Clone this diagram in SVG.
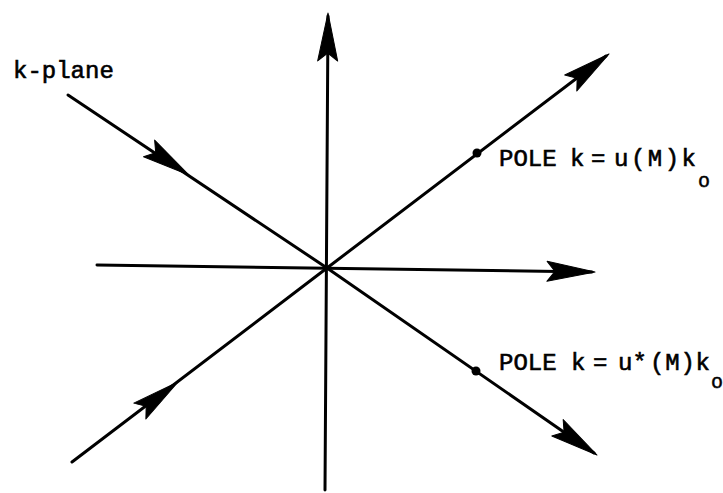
<svg xmlns="http://www.w3.org/2000/svg" xmlns:xlink="http://www.w3.org/1999/xlink" width="723" height="493" viewBox="0 0 723 493">
<style>
.ax{stroke:#000;stroke-width:3;fill:none;stroke-linecap:round}
.ah{fill:#000;stroke:#000;stroke-width:1;stroke-linejoin:round}
.t{font-family:"Liberation Mono","Courier New",monospace;font-size:24px;fill:#000;stroke:#000;stroke-width:0.6}
.s{font-family:"Liberation Mono","Courier New",monospace;font-size:20px;fill:#000;stroke:#000;stroke-width:0.5}
</style>
<defs>
<path id="ah" d="M0,0 L-48,-10 L-40,0 L-48,10 Z"/>
</defs>
<rect width="723" height="493" fill="#fff"/>
<g id="connectors">
<line class="ax" x1="325" y1="490" x2="328" y2="16"/>
<line class="ax" x1="97" y1="265" x2="592" y2="272"/>
<line class="ax" x1="68" y1="95" x2="327" y2="268"/>
<line class="ax" x1="72" y1="462" x2="327" y2="268"/>
<line class="ax" x1="327" y1="268" x2="606" y2="56"/>
<line class="ax" x1="327" y1="268" x2="594" y2="453"/>
<use class="ah" xlink:href="#ah" transform="translate(328,13) rotate(-89.6)"/>
<use class="ah" xlink:href="#ah" transform="translate(595,272) rotate(0.8)"/>
<use class="ah" xlink:href="#ah" transform="translate(609,54) rotate(-37.2)"/>
<use class="ah" xlink:href="#ah" transform="translate(597,455) rotate(34.6)"/>
<use class="ah" xlink:href="#ah" transform="translate(189,175) rotate(33.7)"/>
<use class="ah" xlink:href="#ah" transform="translate(178,382) rotate(-37.3)"/>
</g>
<g id="label-kplane">
<text class="t" x="13" y="78">k-plane</text>
</g>
<g id="pole1">
<circle cx="477" cy="153" r="4.5" fill="#000"/>
<text class="t" y="166"><tspan x="499">POLE</tspan><tspan x="570">k</tspan><tspan x="591">=</tspan><tspan x="614" textLength="82" lengthAdjust="spacing">u(M)k</tspan></text>
<text class="s" x="698" y="187">o</text>
</g>
<g id="pole2">
<circle cx="476" cy="371" r="4.5" fill="#000"/>
<text class="t" y="370"><tspan x="499">POLE</tspan><tspan x="571">k</tspan><tspan x="593">=</tspan><tspan x="618">u*</tspan><tspan x="650" textLength="60" lengthAdjust="spacing">(M)k</tspan></text>
<text class="s" x="711" y="388">o</text>
</g>
</svg>
